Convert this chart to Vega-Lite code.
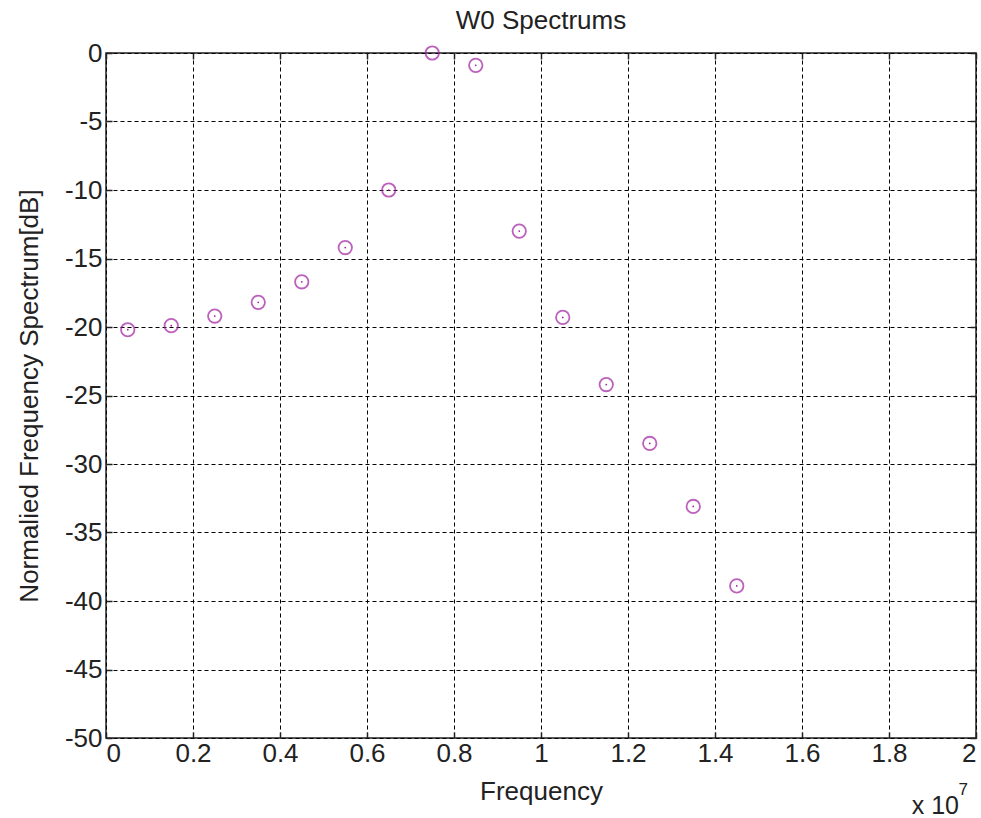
{
  "$schema": "https://vega.github.io/schema/vega-lite/v6.json",
  "autosize": "none",
  "width": 870,
  "height": 685,
  "padding": {"left": 106, "top": 53, "right": 5, "bottom": 80},
  "background": "white",
  "title": {"text": "W0 Spectrums", "font": "Liberation Sans", "fontSize": 26, "fontWeight": "normal", "color": "#222", "offset": 6, "anchor": "middle"},
  "config": {
    "view": {"stroke": "#222", "strokeWidth": 1.5},
    "axis": {
      "labelFont": "Liberation Sans", "labelFontSize": 26, "labelColor": "#222",
      "titleFont": "Liberation Sans", "titleFontSize": 26, "titleFontWeight": "normal", "titleColor": "#222",
      "grid": true, "gridColor": "#000", "gridDash": [4, 3], "gridOpacity": 1, "gridWidth": 1,
      "domain": false, "tickSize": -6, "tickColor": "#222", "tickWidth": 1.5
    }
  },
  "data": {"values": [
    {"frequency": 500000, "spectrum": -20.2},
    {"frequency": 1500000, "spectrum": -19.9},
    {"frequency": 2500000, "spectrum": -19.2},
    {"frequency": 3500000, "spectrum": -18.2},
    {"frequency": 4500000, "spectrum": -16.7},
    {"frequency": 5500000, "spectrum": -14.2},
    {"frequency": 6500000, "spectrum": -10.0},
    {"frequency": 7500000, "spectrum": 0.0},
    {"frequency": 8500000, "spectrum": -0.9},
    {"frequency": 9500000, "spectrum": -13.0},
    {"frequency": 10500000, "spectrum": -19.3},
    {"frequency": 11500000, "spectrum": -24.2},
    {"frequency": 12500000, "spectrum": -28.5},
    {"frequency": 13500000, "spectrum": -33.1},
    {"frequency": 14500000, "spectrum": -38.9}
  ]},
  "layer": [
    {
      "mark": {"type": "point", "shape": "circle", "filled": false, "size": 180, "stroke": "#a020a0", "strokeWidth": 1.8, "clip": false},
      "encoding": {
        "x": {"field": "frequency", "type": "quantitative",
          "scale": {"domain": [0, 20000000], "nice": false, "zero": false},
          "axis": {"title": "Frequency", "values": [0, 2000000, 4000000, 6000000, 8000000, 10000000, 12000000, 14000000, 16000000, 18000000, 20000000],
            "labelExpr": "format(datum.value / 10000000, '~g')", "labelPadding": 8, "titlePadding": 12}},
        "y": {"field": "spectrum", "type": "quantitative",
          "scale": {"domain": [-50, 0], "nice": false, "zero": false},
          "axis": {"title": "Normalied Frequency Spectrum[dB]", "values": [-50, -45, -40, -35, -30, -25, -20, -15, -10, -5, 0],
            "labelExpr": "'' + datum.value", "labelPadding": 10, "titlePadding": 22}}
      }
    },
    {
      "mark": {"type": "point", "shape": "circle", "filled": true, "size": 3, "color": "#a020a0", "opacity": 1, "clip": false},
      "encoding": {
        "x": {"field": "frequency", "type": "quantitative",
          "axis": {"orient": "top", "title": null, "labels": false, "grid": false, "values": [0, 2000000, 4000000, 6000000, 8000000, 10000000, 12000000, 14000000, 16000000, 18000000, 20000000]}},
        "y": {"field": "spectrum", "type": "quantitative",
          "axis": {"orient": "right", "title": null, "labels": false, "grid": false, "values": [-50, -45, -40, -35, -30, -25, -20, -15, -10, -5, 0]}}
      }
    },
    {
      "data": {"values": [{"frequency": 20000000, "spectrum": -50, "note": "x 10"}]},
      "mark": {"type": "text", "align": "right", "baseline": "alphabetic", "dx": -17, "dy": 76, "font": "Liberation Sans", "fontSize": 25, "color": "#222"},
      "encoding": {"x": {"field": "frequency", "type": "quantitative", "axis": null}, "y": {"field": "spectrum", "type": "quantitative", "axis": null}, "text": {"field": "note"}}
    },
    {
      "data": {"values": [{"frequency": 20000000, "spectrum": -50, "note": "7"}]},
      "mark": {"type": "text", "align": "right", "baseline": "alphabetic", "dx": -8, "dy": 57, "font": "Liberation Sans", "fontSize": 17, "color": "#222"},
      "encoding": {"x": {"field": "frequency", "type": "quantitative", "axis": null}, "y": {"field": "spectrum", "type": "quantitative", "axis": null}, "text": {"field": "note"}}
    }
  ],
  "resolve": {"axis": {"x": "independent", "y": "independent"}}
}
